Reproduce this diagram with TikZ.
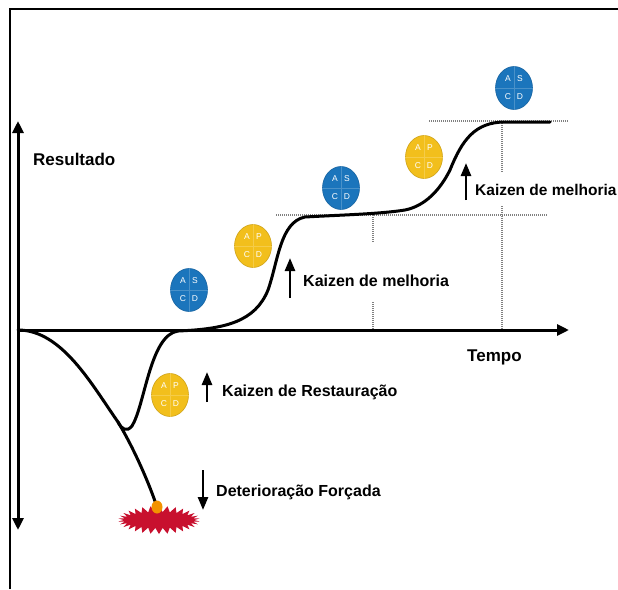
\documentclass[tikz,border=0pt]{standalone}
\usepackage{fontspec}
\setsansfont{Liberation Sans}
\usepackage{tikz}
\usetikzlibrary{arrows.meta, positioning, calc, shapes.geometric, shapes.symbols}
\tikzset{every node/.style={font=\sffamily}}
\usepackage{xcolor}
\definecolor{pdcablue}{HTML}{1B75BC}
\definecolor{pdcayellow}{HTML}{F2BF1C}
\definecolor{burstred}{HTML}{C8102E}
\definecolor{sparkorange}{HTML}{F39200}
\tikzset{
  pdca/.style={ellipse, minimum width=37pt, minimum height=43pt, inner sep=0pt},
  pdcaletter/.style={font=\sffamily\fontsize{8.5}{8.5}\selectfont, text=white, inner sep=0pt},
  axisline/.style={line width=3pt, >={Triangle[width=11pt,length=12pt]}},
  kaizen/.style={line width=2.6pt, -{Triangle[width=10pt,length=13pt]}},
  legend/.style={font=\sffamily\bfseries\fontsize{16}{16}\selectfont, anchor=west, inner sep=0pt},
  axislabel/.style={font=\sffamily\bfseries\fontsize{17}{17}\selectfont, anchor=west, inner sep=0pt},
  guide/.style={gray, line width=1.2pt, dash pattern=on 1pt off 1pt},
  curve/.style={line width=3pt, line cap=round},
}
% PDCA disc: name, centre, colour, second letter
\newcommand{\pdcadisc}[4]{%
  \node[pdca, fill=#3, draw=#3!85!black, line width=0.6pt] (#1) at (#2) {};
  \draw[#3!80!white, line width=0.4pt] (#1.west) -- (#1.east) (#1.north) -- (#1.south);
  \node[pdcaletter] at ($(#1.center)+(-6,-9)$) {A};
  \node[pdcaletter] at ($(#1.center)+(6,-9)$) {#4};
  \node[pdcaletter] at ($(#1.center)+(-6,9)$) {C};
  \node[pdcaletter] at ($(#1.center)+(6,9)$) {D};
}

\begin{document}
\begin{tikzpicture}[x=1pt, y=-1pt]
    \useasboundingbox (0,0) rectangle (618,589);
    \draw[line width=2.5pt] (10,589) -- (10,9) -- (618,9);

    % axes
    \coordinate (ybot) at (18,530);
    \coordinate (ytop) at (18,121);
    \coordinate (orig) at (18,330);
    \coordinate (xend) at (569,330);
    \draw[axisline, <->] (ybot) -- (ytop);
    \draw[axisline, ->] (orig) -- (xend);
    \node[axislabel] (result) at (33,159) {Resultado};
    \node[axislabel] (tempo) at (467,357) {Tempo};

    % guide lines
    \draw[guide] (276,215) -- (548,215);
    \draw[guide] (429,121) -- (568,121);
    \draw[guide] (373,215) -- (373,243) (373,302) -- (373,330);
    \draw[guide] (502,121) -- (502,172) (502,206) -- (502,330);

    % breakdown and recovery
    \node[starburst, starburst points=30, starburst point height=6pt, random starburst=0,
          fill=burstred, minimum width=82pt, minimum height=28pt, inner sep=0pt] (burst) at (159,520) {};
    \coordinate (dip) at (118,422);
    \coordinate (flat) at (178,331);
    \draw[curve] (orig) .. controls (62,330) and (92,385) .. (dip)
                 .. controls (132,445) and (148,480) .. (157,507);
    \node[ellipse, fill=sparkorange, minimum width=11pt, minimum height=13pt, inner sep=0pt] (spark) at (157,507) {};
    \draw[curve] (dip) .. controls (122,430) and (127,432) .. (132,426)
                 .. controls (145,405) and (150,335) .. (flat);

    % improvement steps
    \draw[curve] (flat) .. controls (225,329) and (255,322) .. (268,290)
                 .. controls (278,262) and (280,222) .. (305,217)
                 .. controls (340,215) and (380,214) .. (405,210)
                 .. controls (425,206) and (440,190) .. (450,170)
                 .. controls (462,140) and (475,122) .. (505,122) -- (550,122);

    \pdcadisc{sd1}{189,290}{pdcablue}{S}
    \pdcadisc{pd1}{170,395}{pdcayellow}{P}
    \pdcadisc{pd2}{253,246}{pdcayellow}{P}
    \pdcadisc{sd2}{341,188}{pdcablue}{S}
    \pdcadisc{pd3}{424,157}{pdcayellow}{P}
    \pdcadisc{sd3}{514,88}{pdcablue}{S}

    % kaizen arrows
    \coordinate (rest0) at (207,402);
    \coordinate (rest1) at (207,372);
    \draw[kaizen] (rest0) -- (rest1);
    \node[legend] (restlbl) at (222,392) {Kaizen de Restauração};
    \coordinate (det0) at (203,470);
    \coordinate (det1) at (203,510);
    \draw[kaizen] (det0) -- (det1);
    \node[legend] (detlbl) at (216,492) {Deterioração Forçada};
    \coordinate (mel0) at (290,298);
    \coordinate (mel1) at (290,258);
    \draw[kaizen] (mel0) -- (mel1);
    \node[legend] (mellbl) at (303,281) {Kaizen de melhoria};
    \coordinate (top0) at (466,200);
    \coordinate (top1) at (466,163);
    \draw[kaizen] (top0) -- (top1);
    \node[legend, font=\sffamily\bfseries\fontsize{15.5}{15.5}\selectfont] (toplbl) at (475,190) {Kaizen de melhoria};
  \end{tikzpicture}
\end{document}
